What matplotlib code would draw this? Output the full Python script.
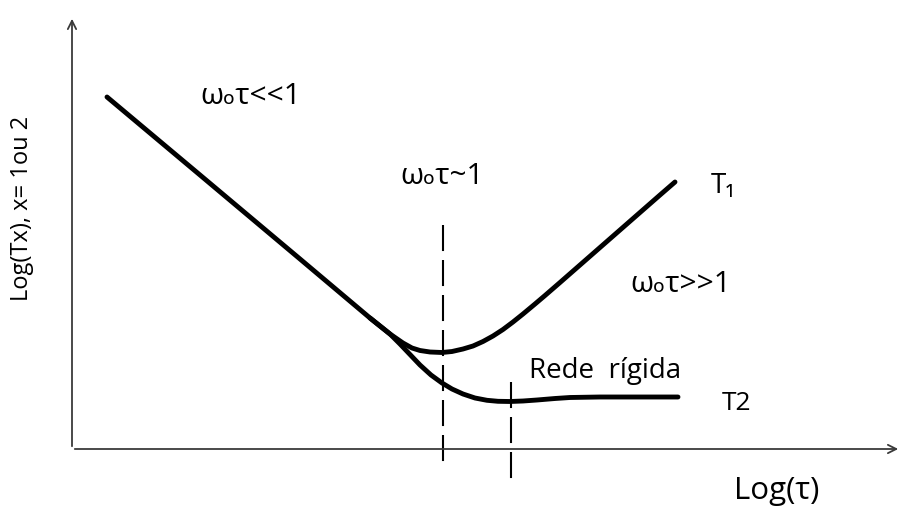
import matplotlib.pyplot as plt

plt.rcParams['font.family'] = ['Open Sans', 'DejaVu Sans']

# relaxation curves, coordinates on the sketch (x right, y down)
t1_x = [107, 200, 300, 370, 390, 403, 412, 420, 430, 442, 452, 463, 473, 483, 493, 503,
        513, 523, 535, 545, 560, 580, 600, 620, 640, 660, 675]
t1_y = [97, 175, 259, 318, 334, 343, 348, 350.5, 352, 352.5, 351.5, 349, 346, 341.5, 336, 329.5,
        322, 314, 304, 295.5, 282.5, 265, 247.5, 230, 212.5, 195, 182]

t2_x = [370, 380, 390, 400, 410, 420, 431, 442, 452, 463, 475, 487, 498, 510, 523, 537,
        555, 570, 600, 640, 678]
t2_y = [318, 326, 334, 344, 354.5, 365, 375, 383, 389, 394, 398, 400.3, 401.3, 401.5, 401, 400,
        398.5, 397.5, 397, 397, 397]

# vertical markers: x position, top, bottom
marker_x = [442.5, 510.5]
marker_top = [225, 382]
marker_bottom = [466, 479]

fig = plt.figure(figsize=(9.02, 5.08), dpi=100)
ax = fig.add_axes([0, 0, 1, 1])
ax.set_xlim(0, 902)
ax.set_ylim(508, 0)
ax.axis('off')

# axes with open arrow heads
axis_col = '#3a3a3a'
ax.annotate('', xy=(72, 16), xytext=(72, 449),
            arrowprops=dict(arrowstyle='->,head_length=0.6,head_width=0.3', lw=1.3, color=axis_col))
ax.annotate('', xy=(901, 449), xytext=(72, 449),
            arrowprops=dict(arrowstyle='->,head_length=0.6,head_width=0.3', lw=1.3, color=axis_col))

ax.plot(t1_x, t1_y, color='black', lw=3.5, solid_capstyle='round', solid_joinstyle='round')
ax.plot(t2_x, t2_y, color='black', lw=3.5, solid_capstyle='round', solid_joinstyle='round')

for mx, top, bot in zip(marker_x, marker_top, marker_bottom):
    ax.plot([mx, mx], [top, bot], color='black', lw=1.5, linestyle=(0, (12.5, 4.3)))

fs = 21.5
ax.text(200, 96, 'ωₒτ<<1', fontsize=fs, va='center', ha='left')
ax.text(400, 176, 'ωₒτ~1', fontsize=fs, va='center', ha='left')
ax.text(630, 285, 'ωₒτ>>1', fontsize=fs, va='center', ha='left')
ax.text(711, 186, 'T₁', fontsize=20, va='center', ha='left')
ax.text(722, 403, 'T2', fontsize=19, va='center', ha='left')
ax.text(529, 371, 'Rede  rígida', fontsize=20, va='center', ha='left')
ax.text(734, 491, 'Log(τ)', fontsize=22.5, va='center', ha='left')
ax.text(22, 208, 'Log(Tx), x= 1ou 2', fontsize=17, va='center', ha='center', rotation=90)

fig.savefig('out.png', dpi=100)
